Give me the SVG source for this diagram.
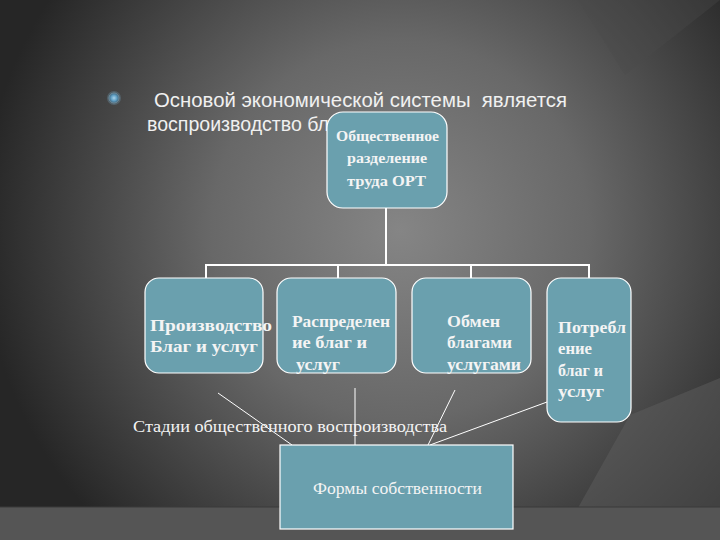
<svg xmlns="http://www.w3.org/2000/svg" width="720" height="540" viewBox="0 0 720 540">
<defs>
<radialGradient id="bg" cx="400" cy="230" r="420" gradientUnits="userSpaceOnUse">
<stop offset="0" stop-color="#858585"/>
<stop offset="0.45" stop-color="#686868"/>
<stop offset="1" stop-color="#262626"/>
</radialGradient>
<radialGradient id="bul" cx="0.5" cy="0.5" r="0.5">
<stop offset="0" stop-color="#a8d4ec"/>
<stop offset="0.6" stop-color="#5d9cc0"/>
<stop offset="1" stop-color="#3a5f78"/>
</radialGradient>
<style>
.box{fill:#6aa0ae;stroke:#ffffff;stroke-width:1.2}
.conn{stroke:#ffffff;fill:none}
.bt{font-family:"Liberation Serif","Times New Roman",serif;font-weight:bold;fill:#f4f4f4;font-size:16.5px}
.st{font-family:"Liberation Serif","Times New Roman",serif;font-weight:bold;fill:#f4f4f4;font-size:14px}
.rt{font-family:"Liberation Serif","Times New Roman",serif;fill:#f4f4f4}
.hd{font-family:"Liberation Sans",Arial,sans-serif;fill:#f0f0f0;font-size:20px}
</style>
</defs>
<rect width="720" height="540" fill="url(#bg)"/>
<path d="M578,0 L625,75 L720,0 Z" fill="#4a4a4a" opacity="0.35"/>
<path d="M630,415 L720,378 L720,540 L560,540 Z" fill="#5e5e5e" opacity="0.5"/>
<rect x="0" y="507" width="720" height="33" fill="#555555"/>
<line x1="0" y1="507" x2="720" y2="507" stroke="#3a3a3a" stroke-width="1"/>

<g id="heading">
<circle cx="114" cy="98" r="7" fill="#7fb6d6" opacity="0.25"/>
<circle cx="114" cy="98" r="5" fill="url(#bul)" stroke="#6f8fa0" stroke-width="1"/>
<text class="hd" x="154" y="107" textLength="413" lengthAdjust="spacingAndGlyphs">Основой экономической системы&#160; является</text>
<text class="hd" x="147" y="131" textLength="200" lengthAdjust="spacingAndGlyphs">воспроизводство благ</text>
</g>

<g id="connectors">
<line class="conn" x1="386" y1="208" x2="386" y2="265" stroke-width="2"/>
<polyline class="conn" points="206,278 206,265 589,265 589,278" stroke-width="2"/>
<line class="conn" x1="338" y1="265" x2="338" y2="278" stroke-width="2"/>
<line class="conn" x1="471" y1="265" x2="471" y2="278" stroke-width="2"/>
<line class="conn" x1="218" y1="393" x2="292" y2="445" stroke-width="1"/>
<line class="conn" x1="355" y1="388" x2="355" y2="445" stroke-width="1"/>
<line class="conn" x1="455" y1="390" x2="428" y2="445" stroke-width="1"/>
<line class="conn" x1="547" y1="402" x2="430" y2="445" stroke-width="1"/>
</g>

<g id="node-ort">
<rect class="box" x="327" y="112" width="120" height="96" rx="16"/>
<text class="st" x="336" y="141" textLength="103" lengthAdjust="spacingAndGlyphs">Общественное</text>
<text class="st" x="347" y="163" textLength="80" lengthAdjust="spacingAndGlyphs">разделение</text>
<text class="st" x="347" y="186" textLength="79" lengthAdjust="spacingAndGlyphs">труда ОРТ</text>
</g>

<g id="node-proizvodstvo">
<rect class="box" x="145" y="278" width="118" height="95" rx="14" stroke="#c02a45" stroke-width="1.5"/>
<text class="bt" x="150" y="331" textLength="122" lengthAdjust="spacingAndGlyphs">Производство</text>
<text class="bt" x="150" y="352" textLength="108" lengthAdjust="spacingAndGlyphs">Благ и услуг</text>
</g>

<g id="node-raspredelenie">
<rect class="box" x="277" y="278" width="119" height="95" rx="14"/>
<text class="bt" x="292" y="327" textLength="98" lengthAdjust="spacingAndGlyphs">Распределен</text>
<text class="bt" x="292" y="348" textLength="75" lengthAdjust="spacingAndGlyphs">ие благ и</text>
<text class="bt" x="296" y="370" textLength="44" lengthAdjust="spacingAndGlyphs">услуг</text>
</g>

<g id="node-obmen">
<rect class="box" x="412" y="278" width="119" height="95" rx="14"/>
<text class="bt" x="447" y="327" textLength="53" lengthAdjust="spacingAndGlyphs">Обмен</text>
<text class="bt" x="447" y="348" textLength="65" lengthAdjust="spacingAndGlyphs">благами</text>
<text class="bt" x="447" y="370" textLength="74" lengthAdjust="spacingAndGlyphs">услугами</text>
</g>

<g id="node-potreblenie">
<rect class="box" x="547" y="278" width="84" height="144" rx="14"/>
<text class="bt" x="558" y="333" textLength="68" lengthAdjust="spacingAndGlyphs">Потребл</text>
<text class="bt" x="558" y="354" textLength="34" lengthAdjust="spacingAndGlyphs">ение</text>
<text class="bt" x="558" y="376" textLength="45" lengthAdjust="spacingAndGlyphs">благ и</text>
<text class="bt" x="558" y="397" textLength="46" lengthAdjust="spacingAndGlyphs">услуг</text>
</g>

<g id="label-stadii">
<text class="rt" font-size="17" x="133" y="432" textLength="314" lengthAdjust="spacingAndGlyphs">Стадии общественного воспроизводства</text>
</g>

<g id="node-formy">
<rect class="box" x="280" y="445" width="233" height="84" stroke-width="1.5"/>
<text class="rt" font-size="16" x="313" y="494" textLength="169" lengthAdjust="spacingAndGlyphs">Формы собственности</text>
</g>
</svg>
